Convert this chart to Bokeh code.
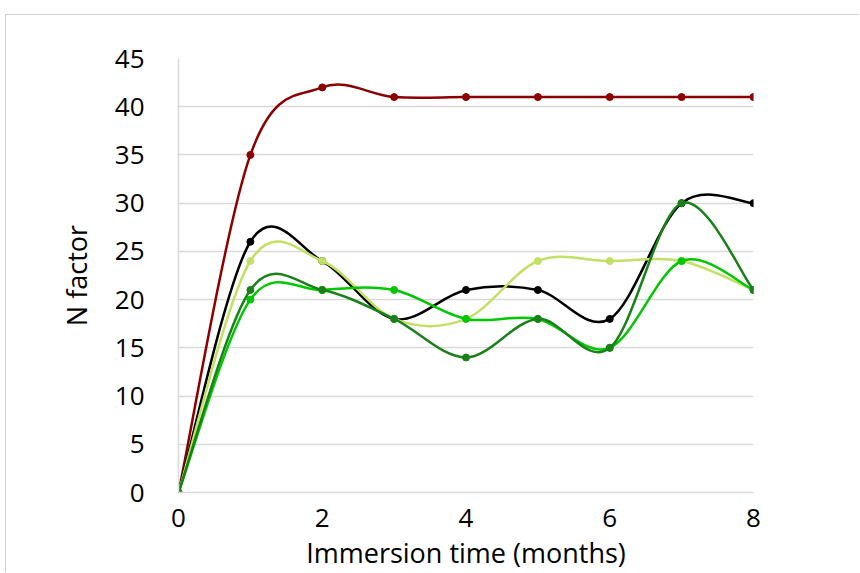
import numpy as np
from bokeh.plotting import figure
from bokeh.models import Range1d, SingleIntervalTicker
from bokeh.embed import file_html
from bokeh.resources import INLINE

months = [0, 1, 2, 3, 4, 5, 6, 7, 8]
series_dark_red = [0, 35, 42, 41, 41, 41, 41, 41, 41]
series_black = [0, 26, 24, 18, 21, 21, 18, 30, 30]
series_yellow_green = [0, 24, 24, 18, 18, 24, 24, 24, 21]
series_bright_green = [0, 20, 21, 21, 18, 18, 15, 24, 21]
series_dark_green = [0, 21, 21, 18, 14, 18, 15, 30, 21]

colors = ["#8B0000", "#000000", "#C2E064", "#00C800", "#1A801A"]
all_series = [series_dark_red, series_black, series_yellow_green,
              series_bright_green, series_dark_green]

FONT = "Open Sans"

p = figure(width=854, height=558, output_backend="svg", toolbar_location=None,
           x_range=Range1d(0, 8), y_range=Range1d(0, 45),
           min_border_left=172, min_border_right=107,
           min_border_top=43, min_border_bottom=81)
p.styles = {"margin-left": "5px", "margin-top": "14px",
            "border-left": "1px solid #d0d0d0", "border-top": "1px solid #d0d0d0"}
p.outline_line_color = None
p.xgrid.grid_line_color = None
p.ygrid.grid_line_color = "#d9d9d9"
p.ygrid.grid_line_width = 1.5

p.xaxis.ticker = SingleIntervalTicker(interval=2)
p.yaxis.ticker = SingleIntervalTicker(interval=5)
for ax in (p.xaxis, p.yaxis):
    ax.axis_line_color = "#d9d9d9"
    ax.axis_line_width = 1.5
    ax.major_tick_line_color = None
    ax.minor_tick_line_color = None
    ax.major_label_text_font = FONT
    ax.major_label_text_font_size = "26px"
    ax.major_label_text_color = "#000000"
    ax.axis_label_text_font = FONT
    ax.axis_label_text_font_size = "27px"
    ax.axis_label_text_font_style = "normal"
    ax.axis_label_text_color = "#000000"

p.xaxis.axis_label = "Immersion time (months)"
p.yaxis.axis_label = "N factor"
p.xaxis.major_label_standoff = 10
p.xaxis.axis_label_standoff = 4
p.yaxis.major_label_standoff = 28
p.yaxis.axis_label_standoff = 17


def smooth_segments(xs, ys):
    xs = np.asarray(xs, float)
    ys = np.asarray(ys, float)
    n = len(xs)
    x0, y0, x1, y1, cx0, cy0, cx1, cy1 = [], [], [], [], [], [], [], []
    for i in range(n - 1):
        im1 = max(i - 1, 0)
        ip2 = min(i + 2, n - 1)
        x0.append(xs[i]); y0.append(ys[i])
        x1.append(xs[i + 1]); y1.append(ys[i + 1])
        cx0.append(xs[i] + (xs[i + 1] - xs[im1]) / 6)
        cy0.append(ys[i] + (ys[i + 1] - ys[im1]) / 6)
        cx1.append(xs[i + 1] - (xs[ip2] - xs[i]) / 6)
        cy1.append(ys[i + 1] - (ys[ip2] - ys[i]) / 6)
    return x0, y0, x1, y1, cx0, cy0, cx1, cy1


for ys, c in zip(all_series, colors):
    x0, y0, x1, y1, cx0, cy0, cx1, cy1 = smooth_segments(months, ys)
    p.bezier(x0=x0, y0=y0, x1=x1, y1=y1, cx0=cx0, cy0=cy0, cx1=cx1, cy1=cy1,
             line_color=c, line_width=2.5)
    p.scatter(months, ys, size=7, color=c)

open("out.html", "w").write(file_html(p, INLINE))
